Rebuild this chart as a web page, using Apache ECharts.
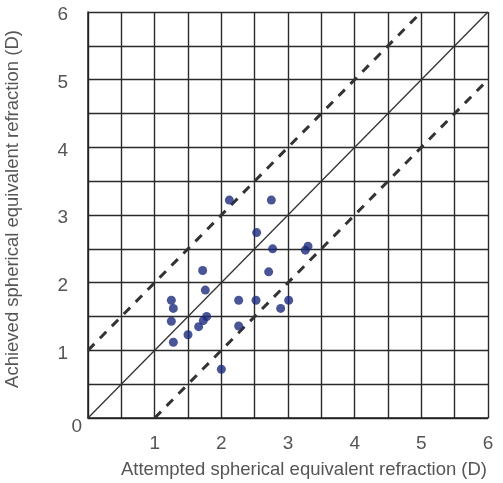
<!DOCTYPE html>
<html>
<head>
<meta charset="utf-8">
<script src="https://cdn.jsdelivr.net/npm/echarts@6/dist/echarts.min.js"></script>
<style>
  html, body { margin: 0; padding: 0; background: #fff; }
</style>
</head>
<body>
<div id="chart" style="width: 503px;height: 483px;"></div>
<script>
  // attempted vs achieved SE (D)
  var attempted = [2.12, 2.75, 2.53, 2.77, 3.26, 3.30, 1.72, 2.71, 1.76, 1.25, 1.28, 2.26, 2.52, 3.01, 2.89, 1.25, 1.78, 1.73, 1.66, 2.26, 1.50, 1.28, 2.00];
  var achieved  = [3.22, 3.22, 2.74, 2.50, 2.48, 2.54, 2.18, 2.16, 1.89, 1.74, 1.62, 1.74, 1.74, 1.74, 1.62, 1.43, 1.50, 1.44, 1.35, 1.36, 1.23, 1.12, 0.72];
  var identityLine = [[0, 0], [6, 6]];
  var upperLine = [[0, 1], [5, 6]];
  var lowerLine = [[1, 0], [6, 5]];

  var points = attempted.map(function (x, i) { return [x, achieved[i]]; });

  var chart = echarts.init(document.getElementById('chart'));
  var font = 'Liberation Sans, Arial, sans-serif';

  function axisOpt(isX) {
    return {
      type: 'value',
      min: 0,
      max: 6,
      interval: 0.5,
      name: isX ? 'Attempted spherical equivalent refraction (D)' : 'Achieved spherical equivalent refraction (D)',
      nameLocation: 'middle',
      nameGap: isX ? 42 : 66,
      nameTextStyle: {
        color: '#555', fontSize: 18.5, fontFamily: font,
        padding: isX ? [0, 0, 0, 32] : [0, 0, 0, 12]
      },
      axisLine: { show: true, onZero: false, lineStyle: { color: '#222', width: 1.5 } },
      axisTick: { show: false },
      axisLabel: {
        color: '#555', fontSize: 19, fontFamily: font,
        margin: isX ? 16 : 20,
        padding: isX ? 0 : [6, 0, 0, 0],
        formatter: function (v) {
          if (v % 1 !== 0) return '';
          if (v === 0) return isX ? '' : '{o|0}';
          return String(v);
        },
        rich: {
          o: { color: '#555', fontSize: 19, fontFamily: font, padding: [12, -14, 0, 0] }
        }
      },
      splitLine: { show: true, lineStyle: { color: '#2a2a2a', width: 1.4 } }
    };
  }

  chart.setOption({
    animation: false,
    grid: { left: 88, right: 15, top: 12, bottom: 65, outerBoundsMode: 'none' },
    xAxis: axisOpt(true),
    yAxis: axisOpt(false),
    series: [
      {
        type: 'line', data: identityLine, symbol: 'none',
        lineStyle: { color: '#333', width: 1.3 }
      },
      {
        type: 'line', data: upperLine, symbol: 'none',
        lineStyle: { color: '#333', width: 3, type: [9, 8] }
      },
      {
        type: 'line', data: lowerLine, symbol: 'none',
        lineStyle: { color: '#333', width: 3, type: [9, 8] }
      },
      {
        type: 'scatter', data: points, symbolSize: 9,
        itemStyle: { color: '#1b2b7c' }, z: 5
      }
    ]
  });
</script>
</body>
</html>
